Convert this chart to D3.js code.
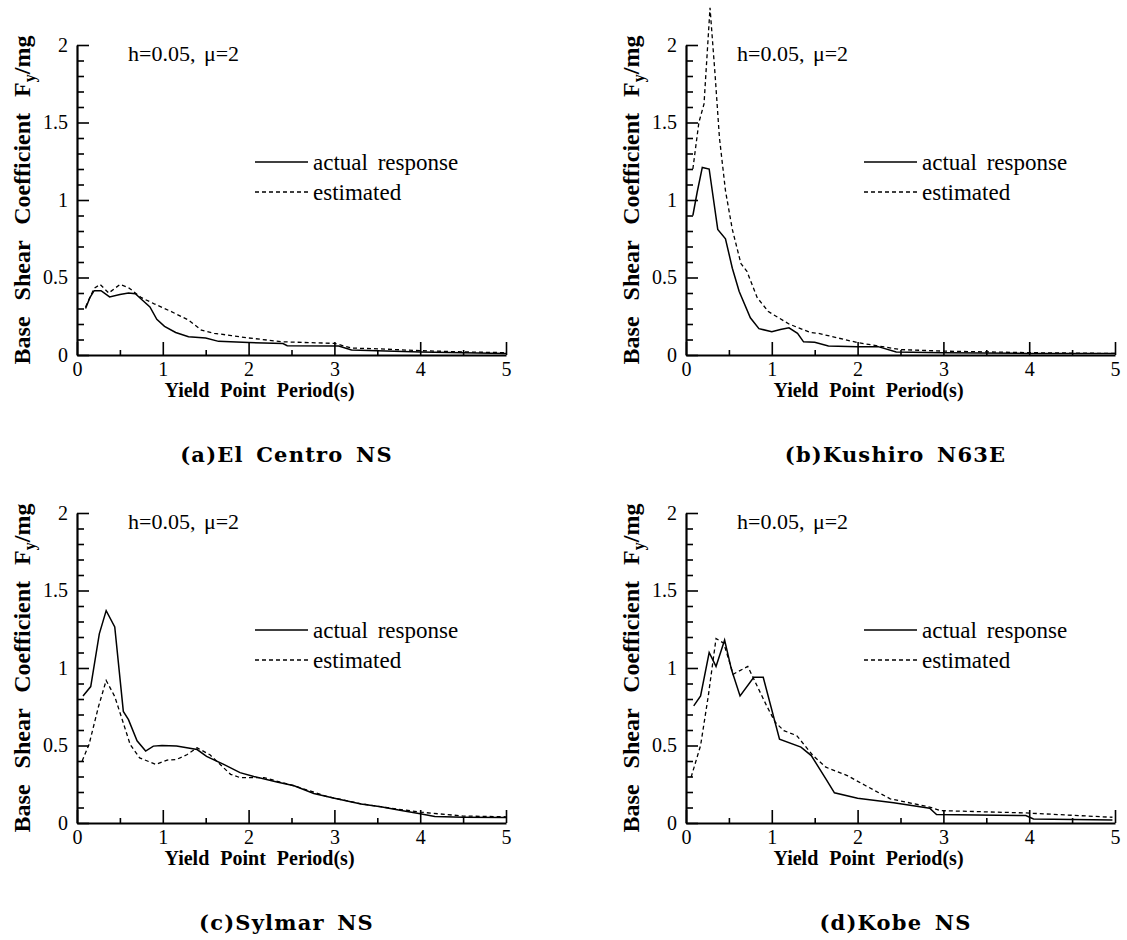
<!DOCTYPE html>
<html>
<head>
<meta charset="UTF-8">
<title>Base shear coefficient spectra</title>
<script src="https://d3js.org/d3.v7.min.js"></script>
<style>
  body { margin: 0; background: #fff; }
  svg { display: block; }
  .axis text { font-family: "Liberation Serif", "Times New Roman", serif; font-size: 20px; fill: #000; }
  .axis path, .axis line { stroke: #000; }
  .axis path { stroke-width: 2.2; }
  .axis line { stroke-width: 1.6; }
  .serif { font-family: "Liberation Serif", "Times New Roman", serif; fill: #000; }
  .bold { font-weight: bold; }
  .caption { font-family: "DejaVu Serif", serif; font-weight: bold; font-size: 21px; letter-spacing: 1.2px; word-spacing: 4px; }
  .curve { fill: none; stroke: #000; stroke-width: 1.5; }
  .dash { stroke-dasharray: 4 3; stroke-width: 1.3; }
</style>
</head>
<body>
<svg width="1127" height="940"></svg>
<script>
// [period (s), Fy/mg]
var elCentroActual = [[0.1,0.30],[0.15,0.37],[0.2,0.415],[0.28,0.415],[0.38,0.375],[0.5,0.39],[0.6,0.40],[0.68,0.395],[0.76,0.355],[0.85,0.31],[0.93,0.23],[1.02,0.185],[1.15,0.145],[1.3,0.118],[1.5,0.11],[1.65,0.088],[2.0,0.08],[2.4,0.074],[2.45,0.06],[3.05,0.058],[3.2,0.032],[4.0,0.02],[4.5,0.015],[5.0,0.01]]
var elCentroEstimated = [[0.1,0.31],[0.2,0.43],[0.27,0.455],[0.37,0.40],[0.5,0.455],[0.6,0.435],[0.75,0.37],[0.9,0.33],[1.1,0.28],[1.3,0.225],[1.45,0.16],[1.6,0.14],[1.8,0.125],[2.0,0.11],[2.4,0.085],[3.0,0.075],[3.2,0.045],[3.5,0.04],[4.0,0.028],[4.5,0.02],[5.0,0.015]]

var kushiroActual = [[0.08,0.90],[0.13,1.05],[0.19,1.21],[0.27,1.20],[0.37,0.81],[0.46,0.75],[0.54,0.56],[0.62,0.41],[0.75,0.24],[0.85,0.17],[1.0,0.15],[1.1,0.165],[1.2,0.175],[1.3,0.14],[1.37,0.085],[1.5,0.082],[1.66,0.058],[2.0,0.054],[2.24,0.054],[2.45,0.02],[3.0,0.015],[4.0,0.01],[5.0,0.01]]
var kushiroEstimated = [[0.08,1.2],[0.15,1.5],[0.21,1.62],[0.28,2.24],[0.34,1.8],[0.39,1.4],[0.46,1.06],[0.54,0.81],[0.64,0.59],[0.71,0.54],[0.83,0.37],[0.96,0.28],[1.2,0.2],[1.45,0.145],[1.54,0.14],[2.0,0.08],[2.5,0.035],[3.0,0.025],[4.0,0.015],[5.0,0.01]]

var sylmarActual = [[0.07,0.82],[0.16,0.88],[0.26,1.22],[0.34,1.37],[0.44,1.265],[0.54,0.72],[0.6,0.667],[0.7,0.53],[0.8,0.464],[0.89,0.496],[0.99,0.50],[1.16,0.496],[1.4,0.474],[1.51,0.43],[1.71,0.378],[1.9,0.325],[2.06,0.30],[2.33,0.265],[2.53,0.24],[2.76,0.19],[3.0,0.16],[3.31,0.122],[3.54,0.105],[3.78,0.08],[4.0,0.06],[4.17,0.042],[4.5,0.037],[5.0,0.035]]
var sylmarEstimated = [[0.06,0.40],[0.14,0.506],[0.25,0.75],[0.34,0.92],[0.44,0.816],[0.54,0.645],[0.62,0.506],[0.73,0.42],[0.92,0.378],[1.05,0.406],[1.16,0.41],[1.28,0.44],[1.4,0.485],[1.55,0.44],[1.79,0.314],[1.9,0.293],[2.18,0.293],[2.53,0.24],[2.92,0.17],[3.3,0.125],[3.6,0.1],[4.0,0.07],[4.5,0.045],[5.0,0.04]]

var kobeActual = [[0.09,0.756],[0.17,0.82],[0.27,1.10],[0.35,1.01],[0.45,1.18],[0.53,0.99],[0.63,0.82],[0.79,0.94],[0.90,0.94],[1.09,0.54],[1.34,0.49],[1.46,0.435],[1.63,0.285],[1.73,0.195],[2.0,0.16],[2.42,0.13],[2.84,0.095],[2.92,0.055],[3.96,0.048],[4.05,0.026],[4.97,0.02]]
var kobeEstimated = [[0.06,0.296],[0.17,0.50],[0.26,0.82],[0.35,1.19],[0.44,1.16],[0.55,0.96],[0.72,1.01],[0.81,0.906],[0.94,0.756],[1.04,0.65],[1.14,0.596],[1.29,0.564],[1.48,0.435],[1.63,0.36],[1.88,0.306],[2.09,0.242],[2.38,0.156],[2.84,0.103],[2.96,0.08],[3.96,0.065],[4.97,0.037]]

var captions = ["(a)El Centro NS", "(b)Kushiro N63E", "(c)Sylmar NS", "(d)Kobe NS"]
var xTicks = [0, 1, 2, 3, 4, 5]
var yTicks = [0, 0.5, 1, 1.5, 2]
var legendLabels = ["actual  response", "estimated"]
var note = "h=0.05,  \u03bc=2"

var panels = [
  { left: 77, top: 45, actual: elCentroActual, est: elCentroEstimated, caption: captions[0] },
  { left: 686, top: 45, actual: kushiroActual, est: kushiroEstimated, caption: captions[1] },
  { left: 77, top: 513, actual: sylmarActual, est: sylmarEstimated, caption: captions[2] },
  { left: 686, top: 513, actual: kobeActual, est: kobeEstimated, caption: captions[3] }
]

var width = 429, height = 310
var svg = d3.select("svg")

panels.forEach(function(p) {
  var g = svg.append("g").attr("transform", "translate(" + p.left + "," + p.top + ")")

  var x = d3.scaleLinear().domain([0, 5]).range([0, width])
  var y = d3.scaleLinear().domain([0, 2]).range([height, 0])

  // minor ticks
  g.append("g").attr("class", "axis")
    .call(d3.axisLeft(y).tickValues(d3.range(1, 20).filter(function(i) { return i % 5 != 0 }).map(function(i) { return i / 10 }))
      .tickSizeInner(-7).tickSizeOuter(0).tickFormat(""))
    .select(".domain").remove()
  g.append("g").attr("class", "axis")
    .attr("transform", "translate(0," + height + ")")
    .call(d3.axisBottom(x).tickValues([0.5, 1.5, 2.5, 3.5, 4.5]).tickSizeInner(-5).tickSizeOuter(0).tickFormat(""))
    .select(".domain").remove()

  // major axes
  g.append("g").attr("class", "axis")
    .call(d3.axisLeft(y).tickValues(yTicks).tickSizeInner(-12).tickSizeOuter(0).tickPadding(9)
      .tickFormat(d3.format("")))
  g.append("g").attr("class", "axis")
    .attr("transform", "translate(0," + height + ")")
    .call(d3.axisBottom(x).tickValues(xTicks).tickSizeInner(-13).tickSizeOuter(0).tickPadding(7)
      .tickFormat(d3.format("d")))

  var line = d3.line().x(function(d) { return x(d[0]) }).y(function(d) { return y(d[1]) })

  g.append("path").datum(p.actual).attr("class", "curve").attr("d", line)
  g.append("path").datum(p.est).attr("class", "curve dash").attr("d", line)

  // note
  g.append("text").attr("class", "serif").attr("x", 51).attr("y", 16)
    .style("font-size", "22px").style("word-spacing", "3px").text(note)

  // legend
  var lx = 178
  legendLabels.forEach(function(lab, i) {
    var ly = 117 + i * 30
    g.append("line").attr("x1", lx).attr("x2", lx + 53).attr("y1", ly).attr("y2", ly)
      .attr("class", i == 0 ? "curve" : "curve dash")
    g.append("text").attr("class", "serif").attr("x", lx + 58).attr("y", ly).attr("dy", "0.35em")
      .style("font-size", "23px").style("word-spacing", "4px").text(lab)
  })

  // axis titles
  g.append("text").attr("class", "serif bold")
    .attr("x", width / 2 - 32).attr("y", height + 42)
    .attr("text-anchor", "middle").style("font-size", "20px").style("word-spacing", "6px")
    .text("Yield Point Period(s)")

  var yl = g.append("text").attr("class", "serif bold")
    .attr("transform", "translate(-47," + (height / 2) + ") rotate(-90)")
    .attr("text-anchor", "middle").style("font-size", "24px").style("word-spacing", "10px")
  yl.append("tspan").text("Base Shear Coefficient F")
  yl.append("tspan").attr("dy", 5).style("font-size", "16px").text("y")
  yl.append("tspan").attr("dy", -5).text("/mg")

  // caption
  g.append("text").attr("class", "caption")
    .attr("x", width / 2 - 5).attr("y", 417)
    .attr("text-anchor", "middle").text(p.caption)
})
</script>
</body>
</html>
